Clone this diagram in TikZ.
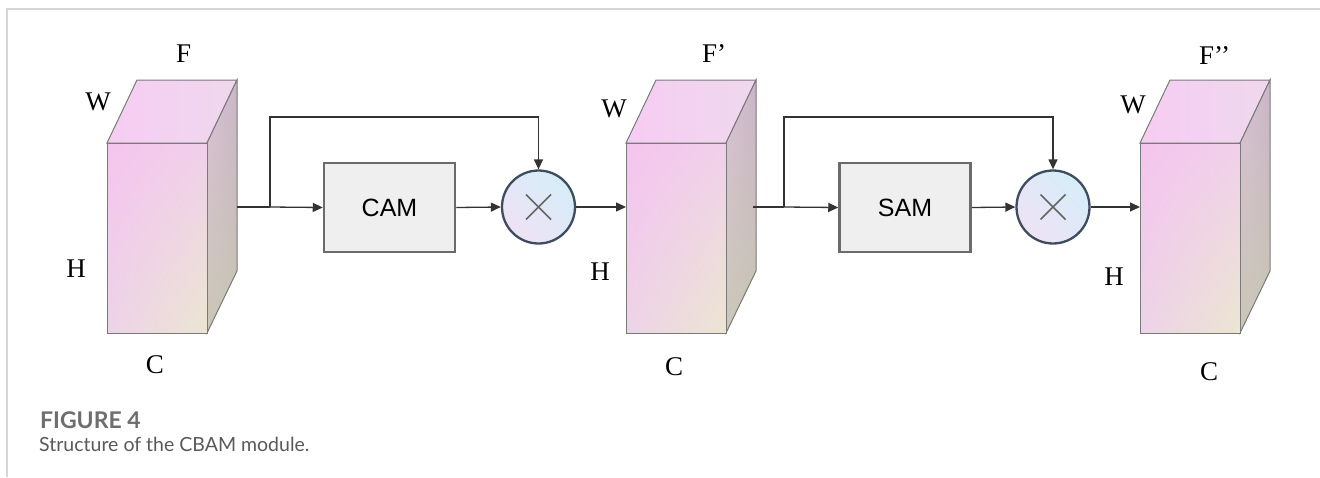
\documentclass[tikz,border=0pt]{standalone}
\usepackage{fontspec}
\setmainfont{Liberation Serif}
\newfontfamily\boxfont{Liberation Sans}
\newfontfamily\capfont{Lato}
\usetikzlibrary{arrows.meta,shadings,calc}
\definecolor{framegray}{HTML}{D6D6D6}
\definecolor{edgegray}{HTML}{7A7A7A}
\definecolor{boxfill}{HTML}{EFEFEF}
\definecolor{boxedge}{HTML}{6B6B6B}
\definecolor{ringcol}{HTML}{3E4D5E}
\definecolor{crosscol}{HTML}{656565}
\definecolor{linecol}{HTML}{333333}
\definecolor{pinkA}{HTML}{F5C4EE}
\definecolor{pinkB}{HTML}{F0D0EA}
\definecolor{beigeA}{HTML}{EBE6D2}
\definecolor{pinkC}{HTML}{EDD3E8}
\definecolor{topA}{HTML}{F6CCF2}
\definecolor{topB}{HTML}{EFD8EE}
\definecolor{sideA}{HTML}{D8C0D5}
\definecolor{sideB}{HTML}{CBB5C8}
\definecolor{sideC}{HTML}{C6C8B2}
\definecolor{sideD}{HTML}{CCC6B8}
\definecolor{circA}{HTML}{EEE2F5}
\definecolor{circB}{HTML}{D6EDF8}
\definecolor{capgray}{HTML}{6E6E6E}
\definecolor{captext}{HTML}{5A5A5A}
\tikzset{
  facefront/.style={draw=edgegray,line width=1pt,upper left=pinkA,upper right=pinkB,lower left=pinkC,lower right=beigeA},
  facetop/.style={draw=edgegray,line width=1pt,upper left=topA,upper right=topB,lower left=topA,lower right=topB},
  faceside/.style={draw=edgegray,line width=1pt,upper left=sideA,upper right=sideB,lower left=sideD,lower right=sideC},
  dimlabel/.style={font=\fontsize{27}{30}\selectfont,inner sep=0pt},
  modbox/.style={draw=boxedge,line width=2.5pt,fill=boxfill,minimum width=131pt,minimum height=89pt,inner sep=0pt,font=\boxfont\fontsize{25}{28}\selectfont},
  mulnode/.style={circle,draw=ringcol,line width=2.3pt,minimum size=73pt,inner sep=0pt,shading=axis,left color=circA,right color=circB,shading angle=135},
  conn/.style={draw=linecol,line width=1.3pt},
  arr/.style={conn,-{Triangle[length=10pt,width=9pt]}}
}
\newcommand{\mycube}[2]{%
  \path[facetop] (#1,143) -- (#1+30,80) -- (#1+130,80) -- (#1+100,143) -- cycle;
  \path[faceside] (#1+100,143) -- (#1+130,80) -- (#1+130,271) -- (#1+100,333) -- cycle;
  \path[facefront] (#1,143) rectangle (#1+100,333);
}
\newcommand{\mycross}[1]{%
  \draw[crosscol,line width=1.6pt] ($(#1)+(-12.5,-12.5)$) -- ($(#1)+(12.5,12.5)$);
  \draw[crosscol,line width=1.6pt] ($(#1)+(-12.5,12.5)$) -- ($(#1)+(12.5,-12.5)$);
}
\begin{document}
\begin{tikzpicture}[x=1pt,y=-1pt]
\useasboundingbox (0,0) rectangle (1320,477);
\fill[white] (0,0) rectangle (1320,477);
% frame
\draw[framegray,line width=1.5pt] (1320,9) -- (7,9) -- (7,477);
% cubes
\mycube{107}{a}
\mycube{626}{b}
\mycube{1140}{c}
% cube labels
\node[dimlabel,anchor=base west] (fa) at (176,62) {F};
\node[dimlabel] (wa) at (98,102) {W};
\node[dimlabel] (ha) at (76,269) {H};
\node[dimlabel] (ca) at (155,365) {C};
\node[dimlabel,anchor=base west] (fb) at (702,62) {F’};
\node[dimlabel] (wb) at (614,109) {W};
\node[dimlabel] (hb) at (600,272) {H};
\node[dimlabel] (cb) at (674,367) {C};
\node[dimlabel,anchor=base west] (fc) at (1199,64) {F’’};
\node[dimlabel] (wc) at (1133,105) {W};
\node[dimlabel] (hc) at (1114,277) {H};
\node[dimlabel] (cc) at (1209,372) {C};
% modules
\node[modbox] (cam) at (389.5,207.5) {CAM};
\node[modbox] (sam) at (905,207.5) {SAM};
\node[mulnode] (m1) at (538.5,207) {};
\node[mulnode] (m2) at (1053,207) {};
\mycross{m1}
\mycross{m2}
% coordinates
\coordinate (o1) at (237,207);
\coordinate (s1) at (270,207);
\coordinate (t1) at (270,117);
\coordinate (i2) at (626,207);
\coordinate (o2) at (753,207);
\coordinate (s2) at (784,207);
\coordinate (t2) at (784,117);
\coordinate (i3) at (1140,207);
% connectors
\draw[conn] (o1) -- (s1);
\draw[arr] (s1) -- (cam.west);
\draw[arr] (s1) -- (t1) -| (m1.north);
\draw[arr] (cam.east) -- (m1.west);
\draw[arr] (m1.east) -- (i2);
\draw[conn] (o2) -- (s2);
\draw[arr] (s2) -- (sam.west);
\draw[arr] (s2) -- (t2) -| (m2.north);
\draw[arr] (sam.east) -- (m2.west);
\draw[arr] (m2.east) -- (i3);
% caption
\node[anchor=base west,inner sep=0pt,text=capgray,font=\capfont\bfseries\fontsize{23}{26}\selectfont] (figlab) at (40,428) {FIGURE 4};
\node[anchor=base west,inner sep=0pt,text=captext,font=\capfont\fontsize{19.5}{22}\selectfont] (figcap) at (39,451) {Structure of the CBAM module.};
\end{tikzpicture}
\end{document}
